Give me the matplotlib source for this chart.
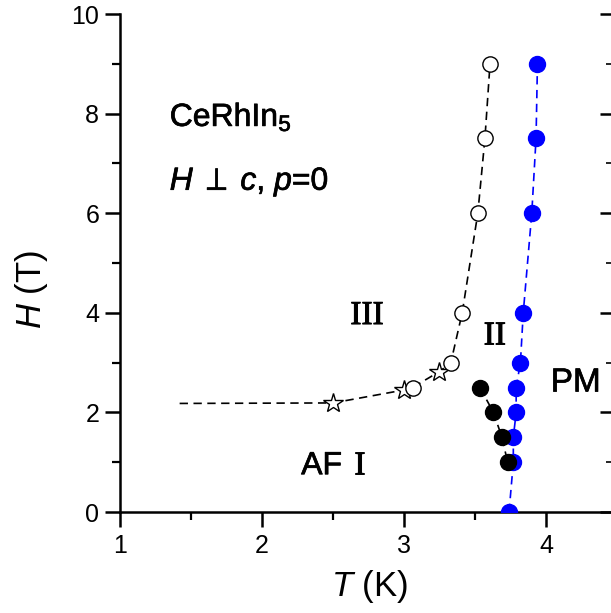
import matplotlib
matplotlib.use("Agg")
import matplotlib.pyplot as plt
import matplotlib.patheffects as pe
from matplotlib.ticker import MultipleLocator

plt.rcParams['font.family'] = ['Liberation Sans', 'DejaVu Sans']
plt.rcParams['mathtext.fontset'] = 'custom'
plt.rcParams['mathtext.rm'] = 'Liberation Sans'
plt.rcParams['mathtext.it'] = 'Liberation Sans:italic'
plt.rcParams['mathtext.fallback'] = 'stixsans'

# Blue filled circles (T_N)
T_blue = [3.74, 3.77, 3.77, 3.79, 3.79, 3.82, 3.84, 3.90, 3.93, 3.94]
H_blue = [0.0, 1.0, 1.5, 2.0, 2.5, 3.0, 4.0, 6.0, 7.5, 9.0]
# Black filled circles
T_black = [3.535, 3.63, 3.69, 3.73]
H_black = [2.5, 2.0, 1.5, 1.0]
# Open circles
T_open = [3.06, 3.33, 3.41, 3.52, 3.57, 3.606]
H_open = [2.5, 3.0, 4.0, 6.0, 7.5, 9.0]
# Stars
T_star = [2.50, 3.00, 3.25]
H_star = [2.19, 2.45, 2.82]
# Dashed guide line through III boundary
T_line = [1.42, 2.50, 3.00, 3.06, 3.25, 3.33, 3.41, 3.52, 3.57, 3.606]
H_line = [2.18, 2.19, 2.45, 2.50, 2.82, 3.0, 4.0, 6.0, 7.5, 9.0]

W, Hh = 611, 613
fig = plt.figure(figsize=(W/100, Hh/100), dpi=100)
x0, x1, y0, y1 = 120, 612, 14, 512
ax = fig.add_axes([x0/W, 1 - y1/Hh, (x1-x0)/W, (y1-y0)/Hh])
ax.set_xlim(1, 4.465)
ax.set_ylim(0, 10)

dash = (0, (5, 3.3))
ax.plot(T_line, H_line, color='black', lw=1.2, ls=dash, zorder=1)
ax.plot(T_black, H_black, color='black', lw=1.2, ls=dash, zorder=1)
ax.plot(T_blue, H_blue, color='blue', lw=1.2, ls=dash, zorder=1)

ax.plot(T_star, H_star, ls='none', marker='*', ms=15, mfc='white', mec='black', mew=1.0, zorder=3)
ax.plot(T_open, H_open, ls='none', marker='o', ms=11, mfc='white', mec='black', mew=1.0, zorder=3)
ax.plot(T_black, H_black, ls='none', marker='o', ms=11.5, mfc='black', mec='black', zorder=4)
ax.plot(T_blue, H_blue, ls='none', marker='o', ms=11.5, mfc='blue', mec='blue', zorder=3)

ax.spines['top'].set_visible(False)
for s in ['left', 'bottom', 'right']:
    ax.spines[s].set_linewidth(1.8)

ax.xaxis.set_major_locator(MultipleLocator(1))
ax.xaxis.set_minor_locator(MultipleLocator(0.5))
ax.yaxis.set_major_locator(MultipleLocator(2))
ax.yaxis.set_minor_locator(MultipleLocator(1))
ax.tick_params(which='major', direction='out', length=11, width=1.8, labelsize=18, top=False, right=False)
ax.tick_params(which='minor', direction='out', length=6, width=1.6, top=False, right=False)
ax.tick_params(axis='x', pad=5)
ax.tick_params(axis='y', pad=4)

axr = ax.twinx()
axr.set_ylim(0, 10)
axr.yaxis.set_major_locator(MultipleLocator(2))
axr.yaxis.set_minor_locator(MultipleLocator(1))
axr.tick_params(which='major', direction='in', length=9, width=1.8, labelright=False)
axr.tick_params(which='minor', direction='in', length=4, width=1.2)
for s in axr.spines.values():
    s.set_visible(False)

ax.set_xlabel('$\\it{T}$ (K)', fontsize=25)
ax.set_ylabel('$\\it{H}$ (T)', fontsize=25)
ax.xaxis.set_label_coords((370 - x0) / (x1 - x0), (y1 - 568) / (y1 - y0))
ax.yaxis.set_label_coords((50 - x0) / (x1 - x0), (y1 - 289) / (y1 - y0))

heavy = [pe.withStroke(linewidth=0.5, foreground='black')]
ax.text(1.35, 7.75, 'CeRhIn$_5$', fontsize=23, ha='left', va='baseline', path_effects=heavy)
ax.text(1.35, 6.47, '$\\it{H}\\;\\perp\\;\\it{c}$, $\\it{p}$=0', fontsize=23, ha='left', va='baseline',
        path_effects=heavy)

serif = ['Liberation Serif', 'DejaVu Serif']
thick = [pe.withStroke(linewidth=0.7, foreground='black')]
ax.text(2.74, 3.94, 'III', fontsize=24, family=serif, ha='center', va='center', path_effects=thick)
ax.text(3.64, 3.53, 'II', fontsize=24, family=serif, ha='center', va='center', path_effects=thick)
ax.text(4.21, 2.59, 'PM', fontsize=24, ha='center', va='center', path_effects=heavy)
ax.text(2.42, 0.92, 'AF', fontsize=23, ha='center', va='center', path_effects=heavy)
ax.text(2.69, 0.92, 'I', fontsize=24, family=serif, ha='center', va='center', path_effects=thick)

fig.savefig('out.png', dpi=100)
